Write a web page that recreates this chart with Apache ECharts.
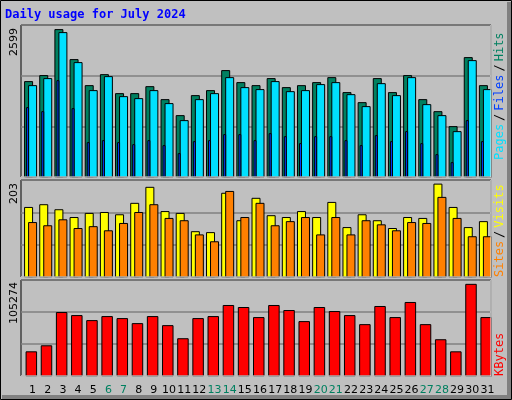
<!DOCTYPE html>
<html>
<head>
<meta charset="utf-8">
<script src="https://cdn.jsdelivr.net/npm/echarts@6/dist/echarts.min.js"></script>
<style>html,body{margin:0;padding:0;background:#c0c0c0}#chart{width:512px;height:400px}</style>
</head>
<body>
<div id="chart"></div>
<script>
// 数据
const days = ['1','2','3','4','5','6','7','8','9','10','11','12','13','14','15','16','17','18','19','20','21','22','23','24','25','26','27','28','29','30','31'];
const weekends = ['6','7','13','14','20','21','27','28'];
const hits = [1682,1788,2599,2070,1611,1805,1470,1470,1593,1364,1082,1435,1523,1876,1664,1611,1735,1576,1611,1664,1752,1488,1311,1735,1488,1788,1364,1152,888,2105,1611];
const files = [1611,1735,2546,2017,1523,1770,1417,1382,1523,1294,994,1364,1470,1752,1576,1541,1682,1505,1523,1629,1664,1452,1241,1646,1435,1752,1276,1082,800,2052,1541];
const pages = [1223,1152,1699,1205,606,641,606,570,641,553,412,623,641,747,747,641,764,711,588,711,711,641,553,729,623,800,588,394,253,994,623];
const visits = [152,158,147,130,139,141,136,161,196,143,139,99,97,183,123,172,134,130,143,130,163,108,136,123,106,130,128,203,152,108,121];
const sites = [119,112,125,106,110,101,117,141,158,128,123,92,77,187,130,161,112,121,130,92,130,92,123,114,101,119,117,174,128,88,88];
const kbytes = [27763,34704,72878,69408,63624,68251,65938,60154,68251,57840,42802,65938,68251,80976,78662,67094,80976,75192,62467,78662,74035,69408,58997,79819,67094,84446,58997,41645,27763,105274,67094];

const maxHits = 2599, maxVisits = 203, maxKB = 105274;

// 通用柱子：相对类目中心的像素偏移
function barSeries(name, data, color, gi, x0, x1, z) {
  return {
    type: 'custom', name, xAxisIndex: gi, yAxisIndex: gi, z,
    data: data.map((v, i) => [i, v]),
    renderItem: (params, api) => {
      const top = api.coord([api.value(0), api.value(1)]);
      const base = api.coord([api.value(0), 0]);
      return {
        type: 'rect',
        shape: { x: top[0] + x0, y: top[1], width: x1 - x0, height: base[1] - top[1] },
        style: { fill: color, stroke: '#000', lineWidth: 1 }
      };
    }
  };
}

const grids = [
  { left: 21, right: 21, top: 25, height: 152 },
  { left: 21, right: 21, top: 180, height: 97 },
  { left: 21, right: 21, top: 280, height: 96 }
].map(g => Object.assign(g, { show: true, backgroundColor: '#c0c0c0', borderColor: '#000', borderWidth: 1 }));

const yMax = [2680, 212, 110250];
const xAxes = [0, 1, 2].map(i => ({
  type: 'category', gridIndex: i, data: days, boundaryGap: true,
  axisLine: { show: false }, axisTick: { show: false },
  axisLabel: i < 2 ? { show: false } : {
    interval: 0, margin: 9, padding: [0, 0, 0, 8],
    fontFamily: 'DejaVu Sans', fontSize: 11,
    formatter: v => weekends.includes(v) ? '{w|' + v + '}' : v,
    color: '#000', rich: { w: { color: '#008060', fontFamily: 'DejaVu Sans', fontSize: 11 } }
  }
}));
const yAxes = yMax.map((m, i) => ({
  type: 'value', gridIndex: i, min: 0, max: m, interval: m / 3,
  axisLabel: { show: false }, axisLine: { show: false }, axisTick: { show: false },
  splitLine: { show: true, lineStyle: { color: '#808080', width: 1.5 } }
}));

function vtext(x, y, rich, str) {
  return { type: 'text', x, y, rotation: Math.PI / 2, style: { text: str, rich, font: '12px "DejaVu Sans Mono"', textAlign: 'right', textVerticalAlign: 'middle' } };
}

const chart = echarts.init(document.getElementById('chart'));
chart.setOption({
  backgroundColor: '#c0c0c0',
  animation: false,
  grid: grids, xAxis: xAxes, yAxis: yAxes,
  graphic: [
    { type: 'rect', shape: { x: 0.5, y: 0.5, width: 511, height: 399 }, style: { fill: 'none', stroke: '#000' }, z: 100 },
    { type: 'polyline', shape: { points: [[2, 397], [509, 397], [509, 2]] }, style: { stroke: '#808080', lineWidth: 4, fill: 'none' } },
    { type: 'polyline', shape: { points: [[21, 177], [491, 177], [491, 25]] }, style: { stroke: '#fff', fill: 'none' }, z: 50 },
    { type: 'polyline', shape: { points: [[21, 277], [491, 277], [491, 180]] }, style: { stroke: '#fff', fill: 'none' }, z: 50 },
    { type: 'polyline', shape: { points: [[21, 376], [491, 376], [491, 280]] }, style: { stroke: '#fff', fill: 'none' }, z: 50 },
    { type: 'text', x: 5, y: 9, style: { text: 'Daily usage for July 2024', font: 'bold 12px "DejaVu Sans Mono"', fill: '#0000ff' } },
    { type: 'text', x: 14, y: 28, rotation: Math.PI / 2, style: { text: String(maxHits), font: '11px "DejaVu Sans"', fill: '#000', textAlign: 'right', textVerticalAlign: 'middle' } },
    { type: 'text', x: 14, y: 183, rotation: Math.PI / 2, style: { text: String(maxVisits), font: '11px "DejaVu Sans"', fill: '#000', textAlign: 'right', textVerticalAlign: 'middle' } },
    { type: 'text', x: 14, y: 282, rotation: Math.PI / 2, style: { text: String(maxKB), font: '11px "DejaVu Sans"', fill: '#000', textAlign: 'right', textVerticalAlign: 'middle' } },
    { type: 'text', x: 500, y: 160, rotation: Math.PI / 2, style: { text: '{p|Pages}{s|/}{f|Files}{s|/}{h|Hits}', rich: { p: { fill: '#00e0ff', font: '12px "DejaVu Sans Mono"' }, f: { fill: '#0040ff', font: '12px "DejaVu Sans Mono"' }, h: { fill: '#008060', font: '12px "DejaVu Sans Mono"' }, s: { fill: '#000', font: '12px "DejaVu Sans Mono"', padding: [0, 3] } }, textAlign: 'left', textVerticalAlign: 'middle' } },
    { type: 'text', x: 500, y: 277, rotation: Math.PI / 2, style: { text: '{o|Sites}{s|/}{y|Visits}', rich: { o: { fill: '#ff8000', font: '12px "DejaVu Sans Mono"' }, y: { fill: '#ffff00', font: '12px "DejaVu Sans Mono"' }, s: { fill: '#000', font: '12px "DejaVu Sans Mono"', padding: [0, 3] } }, textAlign: 'left', textVerticalAlign: 'middle' } },
    { type: 'text', x: 500, y: 376, rotation: Math.PI / 2, style: { text: 'KBytes', font: '12px "DejaVu Sans Mono"', fill: '#ff0000', textAlign: 'left', textVerticalAlign: 'middle' } }
  ],
  series: [
    barSeries('Hits', hits, '#008060', 0, -4, 4, 2),
    barSeries('Files', files, '#00e0ff', 0, 0, 8, 3),
    barSeries('Pages', pages, '#0040ff', 0, -2, 0, 4),
    barSeries('Visits', visits, '#ffff00', 1, -4, 4, 2),
    barSeries('Sites', sites, '#ff8000', 1, 0, 8, 3),
    barSeries('KBytes', kbytes, '#ff0000', 2, -2.5, 8, 2)
  ]
});
</script>
</body>
</html>
